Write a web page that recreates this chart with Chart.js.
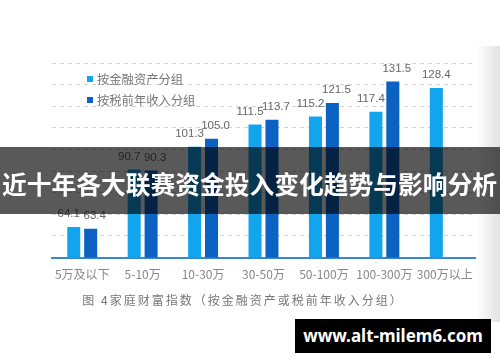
<!DOCTYPE html>
<html>
<head>
<meta charset="utf-8">
<script src="https://cdn.jsdelivr.net/npm/chart.js@4.4.1/dist/chart.umd.min.js"></script>
<style>
  html, body { margin: 0; padding: 0; background: #fff; }
  #wrap { position: relative; width: 500px; height: 362px; overflow: hidden; }
  #chart { position: absolute; left: 0; top: 0; }
  .edge {
    position: absolute; top: 46px; right: 0; width: 24px; height: 276px;
    background: linear-gradient(to right, rgba(228,228,228,0), #e2e2e2);
  }
  .caption {
    position: absolute; left: 0; top: 291px; width: 486px; text-align: center;
    font: 12px "Noto Sans CJK SC", sans-serif; letter-spacing: 2px; color: #777;
  }
  .banner {
    position: absolute; left: 0; top: 147px; width: 500px; height: 67px;
    background: rgba(0, 0, 0, 0.65); color: #fff;
    font: bold 24.75px "Noto Sans CJK SC", sans-serif;
    line-height: 67px; padding: 3px 0 0 2px; white-space: nowrap; box-sizing: border-box;
  }
  .mark {
    position: absolute; left: 295px; top: 319px; width: 196px; height: 34px;
    background: #000; color: #fff; text-align: center;
    font: bold 17px "Noto Sans", "DejaVu Sans", sans-serif; line-height: 34px;
  }
</style>
</head>
<body>
<div id="wrap">
  <canvas id="chart" width="500" height="362"></canvas>
  <div class="edge"></div>
  <div class="caption">图 4家庭财富指数（按金融资产或税前年收入分组）</div>
  <div class="banner">近十年各大联赛资金投入变化趋势与影响分析</div>
  <div class="mark">www.alt-milem6.com</div>
</div>
<script>
// data
const categories = ['5万及以下', '5-10万', '10-30万', '30-50万', '50-100万', '100-300万', '300万以上'];
const byAssets = [64.1, 90.7, 101.3, 111.5, 115.2, 117.4, 128.4];
const byIncome = [63.4, 90.3, 105.0, 113.7, 121.5, 131.5, null];
const seriesNames = ['按金融资产分组', '按税前年收入分组'];
const yMin = 50;
const yMax = 140;
const yStep = 10;

const colors = ['#13a4ee', '#0b62c3'];
const cjk = '"Noto Sans CJK SC", "Liberation Sans", sans-serif';

// value labels over each bar, pairs pushed a little apart
const barValues = {
    id: 'barValues',
    afterDatasetsDraw(chart) {
        const ctx = chart.ctx;
        ctx.save();
        ctx.font = '11.5px "Liberation Sans", sans-serif';
        ctx.fillStyle = '#666';
        ctx.textAlign = 'center';
        ctx.textBaseline = 'middle';
        chart.data.datasets.forEach((ds, i) => {
            const meta = chart.getDatasetMeta(i);
            meta.data.forEach((bar, j) => {
                const v = ds.data[j];
                if (v == null) return;
                const paired = chart.data.datasets.every(d => d.data[j] != null);
                const shift = paired ? (i === 0 ? -5 : 4) : 0;
                ctx.fillText(v.toFixed(1), bar.x + shift, bar.y - 13);
            });
        });
        ctx.restore();
    }
};

// legend sits inside the plot, top left
const innerLegend = {
    id: 'innerLegend',
    afterDraw(chart) {
        const ctx = chart.ctx;
        ctx.save();
        ctx.font = '12.3px ' + cjk;
        ctx.textBaseline = 'middle';
        chart.data.datasets.forEach((ds, i) => {
            const y = 79 + i * 21;
            ctx.fillStyle = ds.backgroundColor;
            ctx.fillRect(87, y - 3, 6, 6);
            ctx.fillStyle = '#777';
            ctx.fillText(ds.label, 97, y);
        });
        ctx.restore();
    }
};

new Chart(document.getElementById('chart'), {
    type: 'bar',
    data: {
        labels: categories,
        datasets: [
            { label: seriesNames[0], data: byAssets, backgroundColor: colors[0] },
            { label: seriesNames[1], data: byIncome, backgroundColor: colors[1] }
        ]
    },
    options: {
        responsive: false,
        animation: false,
        layout: { padding: { left: 52, right: 25, top: 63, bottom: 78 } },
        categoryPercentage: 0.56,
        barPercentage: 0.77,
        plugins: {
            legend: { display: false },
            tooltip: { enabled: false }
        },
        scales: {
            x: {
                grid: { display: false },
                border: { color: '#3a86cf', width: 2 },
                ticks: { color: '#888', font: { family: cjk, size: 12 }, padding: 2, maxRotation: 0 }
            },
            y: {
                min: yMin,
                max: yMax,
                ticks: { display: false, stepSize: yStep },
                grid: { color: '#d2d2d2', drawTicks: false },
                border: { display: false, dash: [4, 4] },
                afterFit(scale) { scale.width = 0; }
            }
        }
    },
    plugins: [barValues, innerLegend]
});
</script>
</body>
</html>
